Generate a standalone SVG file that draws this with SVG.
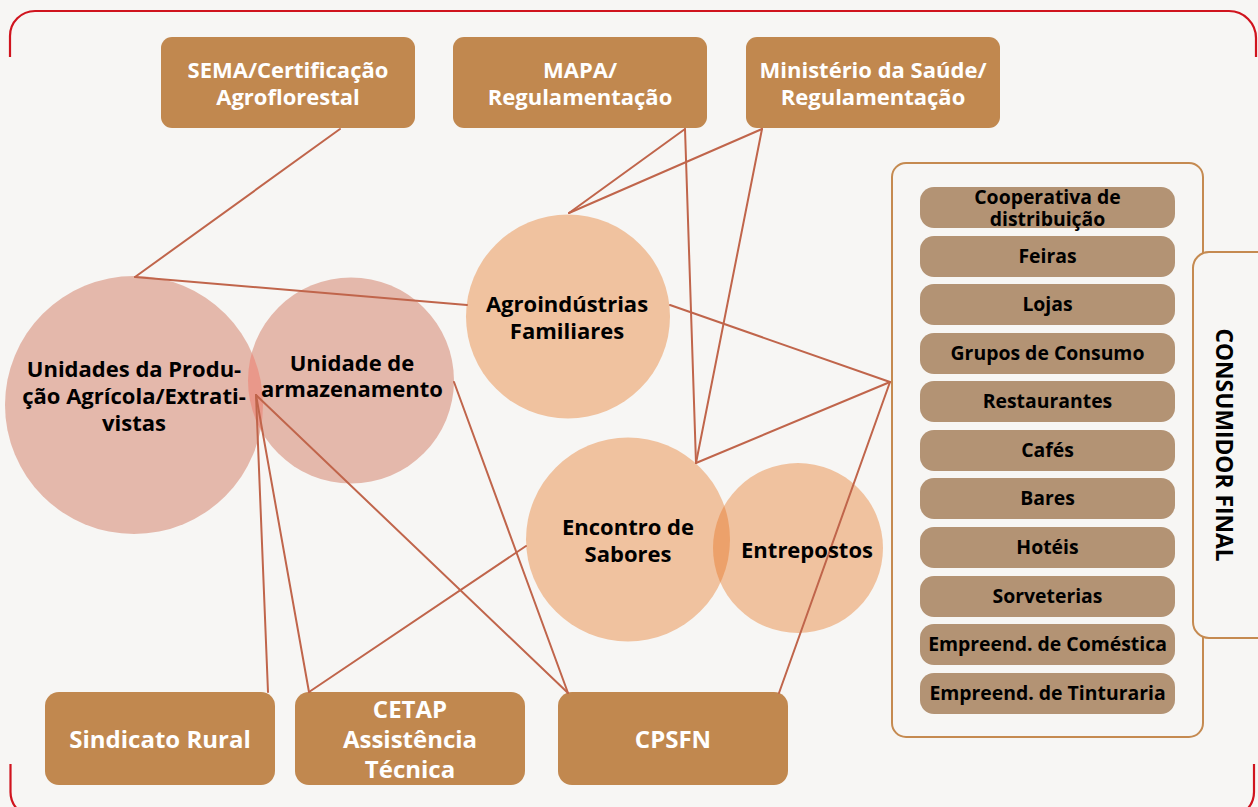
<svg xmlns="http://www.w3.org/2000/svg" width="1258" height="807" viewBox="0 0 1258 807">
<defs>
<style>
.bg{fill:#f7f6f4}
.frame{fill:none;stroke:#d0141e;stroke-width:2.2}
.box{fill:#c1884f}
.bt{font-family:"Open Sans","Noto Sans","Liberation Sans",sans-serif;font-weight:700;font-size:22px;fill:#ffffff;text-anchor:middle}
.bt2{font-family:"Open Sans","Noto Sans","Liberation Sans",sans-serif;font-weight:700;font-size:24px;fill:#ffffff;text-anchor:middle}
.pink{fill:#e4b8ab}
.pinkx{fill:#e9988a}
.orange{fill:#f0c29f}
.orangex{fill:#eca16b}
.ct{font-family:"Open Sans","Noto Sans","Liberation Sans",sans-serif;font-weight:700;font-size:22px;fill:#000000;text-anchor:middle}
.vt{font-family:"Open Sans","Noto Sans","Liberation Sans",sans-serif;font-weight:700;font-size:22.8px;fill:#000000;text-anchor:middle}
.panel{fill:none;stroke:#c58a50;stroke-width:2}
.tab{fill:#f7f6f4;stroke:#c58a50;stroke-width:2}
.pill{fill:#b39374}
.pt{font-family:"Open Sans","Noto Sans","Liberation Sans",sans-serif;font-weight:700;font-size:19.4px;fill:#000000;text-anchor:middle}
.conn{stroke:#c0654b;stroke-width:2;fill:none;stroke-linecap:round}
</style>
<clipPath id="clipProd"><circle cx="134" cy="405" r="129"/></clipPath>
<clipPath id="clipEnc"><circle cx="628" cy="539.5" r="102"/></clipPath>
</defs>
<rect class="bg" x="0" y="0" width="1258" height="807"/>
<g id="frame">
<path class="frame" d="M10,57 V36 A25,25 0 0 1 35,11 H1229 A27,27 0 0 1 1256,38 V57"/>
<path class="frame" d="M10.5,764 V792 A25,25 0 0 0 35.5,817"/>
<path class="frame" d="M1254,764 V792 A25,25 0 0 1 1229,817"/>
</g>

<g id="panel-consumidor">
<rect class="panel" x="892" y="163" width="311" height="574" rx="14"/>
<rect class="tab" x="1193" y="252" width="80" height="386" rx="16"/>
<text class="vt" transform="translate(1216,445) rotate(90)">CONSUMIDOR FINAL</text>
</g>

<g id="pills">
<g id="p-cooperativa"><rect class="pill" x="920" y="187" width="255" height="41" rx="14"/><text class="pt" x="1047.5" y="204">Cooperativa de<tspan x="1047.5" dy="22">distribuição</tspan></text></g>
<g id="p-feiras"><rect class="pill" x="920" y="236" width="255" height="41" rx="14"/><text class="pt" x="1047.5" y="263">Feiras</text></g>
<g id="p-lojas"><rect class="pill" x="920" y="284" width="255" height="41" rx="14"/><text class="pt" x="1047.5" y="311">Lojas</text></g>
<g id="p-grupos"><rect class="pill" x="920" y="333" width="255" height="41" rx="14"/><text class="pt" x="1047.5" y="360">Grupos de Consumo</text></g>
<g id="p-restaurantes"><rect class="pill" x="920" y="381" width="255" height="41" rx="14"/><text class="pt" x="1047.5" y="408">Restaurantes</text></g>
<g id="p-cafes"><rect class="pill" x="920" y="430" width="255" height="41" rx="14"/><text class="pt" x="1047.5" y="457">Cafés</text></g>
<g id="p-bares"><rect class="pill" x="920" y="478" width="255" height="41" rx="14"/><text class="pt" x="1047.5" y="505">Bares</text></g>
<g id="p-hoteis"><rect class="pill" x="920" y="527" width="255" height="41" rx="14"/><text class="pt" x="1047.5" y="554">Hotéis</text></g>
<g id="p-sorveterias"><rect class="pill" x="920" y="576" width="255" height="41" rx="14"/><text class="pt" x="1047.5" y="603">Sorveterias</text></g>
<g id="p-cosmetica"><rect class="pill" x="920" y="624" width="255" height="41" rx="14"/><text class="pt" x="1047.5" y="651">Empreend. de Coméstica</text></g>
<g id="p-tinturaria"><rect class="pill" x="920" y="673" width="255" height="41" rx="14"/><text class="pt" x="1047.5" y="700">Empreend. de Tinturaria</text></g>
</g>

<g id="n-sema"><rect class="box" x="161" y="37" width="254" height="91" rx="11"/><text class="bt" x="288" y="78">SEMA/Certificação<tspan x="288" dy="27">Agroflorestal</tspan></text></g>
<g id="n-mapa"><rect class="box" x="453" y="37" width="254" height="91" rx="11"/><text class="bt" x="580" y="78">MAPA/<tspan x="580" dy="27">Regulamentação</tspan></text></g>
<g id="n-saude"><rect class="box" x="746" y="37" width="254" height="91" rx="11"/><text class="bt" x="873" y="78">Ministério da Saúde/<tspan x="873" dy="27">Regulamentação</tspan></text></g>

<g id="n-producao"><circle class="pink" cx="134" cy="405" r="129"/></g>
<g id="n-armazenamento"><circle class="pink" cx="351" cy="380.5" r="103"/><circle class="pinkx" cx="351" cy="380.5" r="103" clip-path="url(#clipProd)"/></g>
<g id="n-agro"><circle class="orange" cx="568" cy="316.5" r="102"/></g>
<g id="n-encontro"><circle class="orange" cx="628" cy="539.5" r="102"/></g>
<g id="n-entrepostos"><circle class="orange" cx="798" cy="548" r="85"/><circle class="orangex" cx="798" cy="548" r="85" clip-path="url(#clipEnc)"/></g>

<g id="n-sindicato"><rect class="box" x="45" y="692" width="230" height="93" rx="14"/><text class="bt2" x="160" y="748">Sindicato Rural</text></g>
<g id="n-cetap"><rect class="box" x="295" y="692" width="230" height="93" rx="14"/><text class="bt2" x="410" y="718">CETAP<tspan x="410" dy="30">Assistência</tspan><tspan x="410" dy="30">Técnica</tspan></text></g>
<g id="n-cpsfn"><rect class="box" x="558" y="692" width="230" height="93" rx="14"/><text class="bt2" x="673" y="748">CPSFN</text></g>

<g id="connectors">
<line class="conn" x1="340" y1="129" x2="135" y2="277"/>
<line class="conn" x1="135" y1="277" x2="467" y2="305"/>
<line class="conn" x1="685" y1="129" x2="569" y2="213"/>
<line class="conn" x1="762" y1="129" x2="569" y2="213"/>
<line class="conn" x1="685" y1="129" x2="696" y2="463"/>
<line class="conn" x1="762" y1="129" x2="696" y2="463"/>
<line class="conn" x1="696" y1="463" x2="890" y2="382"/>
<line class="conn" x1="670" y1="305" x2="890" y2="382"/>
<line class="conn" x1="890" y1="382" x2="779" y2="693"/>
<line class="conn" x1="454" y1="382" x2="568" y2="693"/>
<line class="conn" x1="256" y1="395" x2="568" y2="693"/>
<line class="conn" x1="256" y1="395" x2="268" y2="692"/>
<line class="conn" x1="256" y1="395" x2="309" y2="692"/>
<line class="conn" x1="309" y1="692" x2="526" y2="546"/>
</g>

<g id="labels">
<text class="ct" x="134" y="377">Unidades da Produ-<tspan x="134" dy="27">ção Agrícola/Extrati-</tspan><tspan x="134" dy="27">vistas</tspan></text>
<text class="ct" x="352" y="371">Unidade de<tspan x="352" dy="26">armazenamento</tspan></text>
<text class="ct" x="567" y="312">Agroindústrias<tspan x="567" dy="27">Familiares</tspan></text>
<text class="ct" x="628" y="535">Encontro de<tspan x="628" dy="27">Sabores</tspan></text>
<text class="ct" x="807" y="558">Entrepostos</text>
</g>
</svg>
